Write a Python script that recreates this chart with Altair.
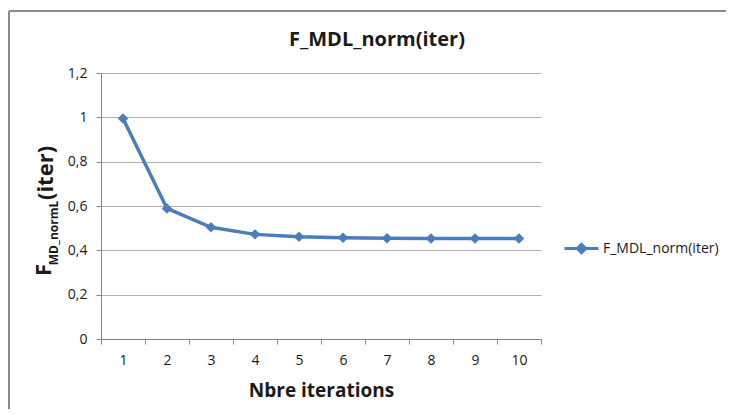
import altair as alt
import pandas as pd

iterations = [1, 2, 3, 4, 5, 6, 7, 8, 9, 10]
f_mdl_norm = [0.995, 0.589, 0.504, 0.472, 0.461, 0.457, 0.454, 0.453, 0.453, 0.453]
series_name = "F_MDL_norm(iter)"
y_ticks = [0, 0.2, 0.4, 0.6, 0.8, 1.0, 1.2]
x_tick_bounds = [i - 0.5 for i in iterations] + [iterations[-1] + 0.5]

chart_title = "F_MDL_norm(iter)"
x_title = "Nbre iterations"
y_title_main = "F"
y_title_sub = "MD_normL"
y_title_tail = "(iter)"

df = pd.DataFrame({"iter": iterations, "value": f_mdl_norm, "series": series_name})

BLUE = "#4a7ebb"
FONT = "Open Sans"
TXT = "#1a1a1a"
AXC = "#868686"

x_enc = alt.X(
    "iter:Q",
    scale=alt.Scale(domain=[0.5, 10.5], nice=False, zero=False),
    axis=alt.Axis(
        values=x_tick_bounds,
        labelExpr="datum.value > 10 ? '' : format(datum.value + 0.5, 'd')",
        labelOffset=22,
        labelFlush=False,
        labelOverlap=False,
        grid=False,
        tickSize=5,
        tickColor=AXC,
        domainColor=AXC,
        labelPadding=9,
        labelFontSize=14,
        labelColor=TXT,
        labelFont=FONT,
        title=x_title,
        titleFont=FONT,
        titleFontSize=19,
        titleFontWeight="bold",
        titleColor=TXT,
        titlePadding=14,
    ),
)
y_enc = alt.Y(
    "value:Q",
    scale=alt.Scale(domain=[0, 1.2], nice=False),
    axis=alt.Axis(
        values=y_ticks,
        labelExpr="replace(format(datum.value, '~g'), '.', ',')",
        grid=True,
        gridColor="#b0b0b0",
        tickSize=5,
        tickColor=AXC,
        domainColor=AXC,
        labelPadding=9,
        labelFontSize=14,
        labelColor=TXT,
        labelFont=FONT,
        title=None,
    ),
)

base = alt.Chart(df)
line = base.mark_line(color=BLUE, strokeWidth=3.5).encode(x=x_enc, y=y_enc)
pts = base.mark_point(shape="diamond", filled=True, size=110, opacity=1).encode(
    x=x_enc,
    y=y_enc,
    color=alt.Color(
        "series:N",
        scale=alt.Scale(range=[BLUE]),
        legend=alt.Legend(
            title=None,
            orient="none",
            legendX=462,
            legendY=157,
            symbolType="M-1,0H1M-0.25,0L0,-0.25L0.25,0L0,0.25Z",
            symbolSize=1156,
            symbolStrokeWidth=3,
            symbolStrokeColor=BLUE,
            symbolFillColor=BLUE,
            labelFont=FONT,
            labelFontSize=14,
            labelColor=TXT,
            labelOffset=3,
        ),
    ),
)

one = alt.Data(values=[{}])
border_left = alt.Chart(one).mark_rule(color="#8a8a8a", strokeWidth=2).encode(
    x=alt.value(-92), y=alt.value(-62), y2=alt.value(340)
)
border_top = alt.Chart(one).mark_rule(color="#8a8a8a", strokeWidth=2).encode(
    x=alt.value(-92), x2=alt.value(640), y=alt.value(-62)
)
title_t = alt.Chart(one).mark_text(font=FONT, fontSize=20, fontWeight="bold", color=TXT).encode(
    x=alt.value(276), y=alt.value(-33), text=alt.value(chart_title)
)
yt_main = alt.Chart(one).mark_text(font=FONT, fontSize=22, fontWeight="bold", color=TXT, angle=270).encode(
    x=alt.value(-57), y=alt.value(197), text=alt.value(y_title_main)
)
yt_sub = alt.Chart(one).mark_text(font=FONT, fontSize=12, fontWeight="bold", color=TXT, angle=270).encode(
    x=alt.value(-47), y=alt.value(160), text=alt.value(y_title_sub)
)
yt_tail = alt.Chart(one).mark_text(font=FONT, fontSize=22, fontWeight="bold", color=TXT, angle=270).encode(
    x=alt.value(-55), y=alt.value(100), text=alt.value(y_title_tail)
)

chart = (
    alt.layer(border_left, border_top, line, pts, title_t, yt_main, yt_sub, yt_tail)
    .properties(
        width=440,
        height=266,
        padding={"left": 93, "top": 65, "right": 185, "bottom": 70},
        autosize=alt.AutoSizeParams(type="none"),
        background="white",
    )
    .configure_view(stroke=None)
)

chart.save("out.html", embed_options={"renderer": "svg", "actions": False})
